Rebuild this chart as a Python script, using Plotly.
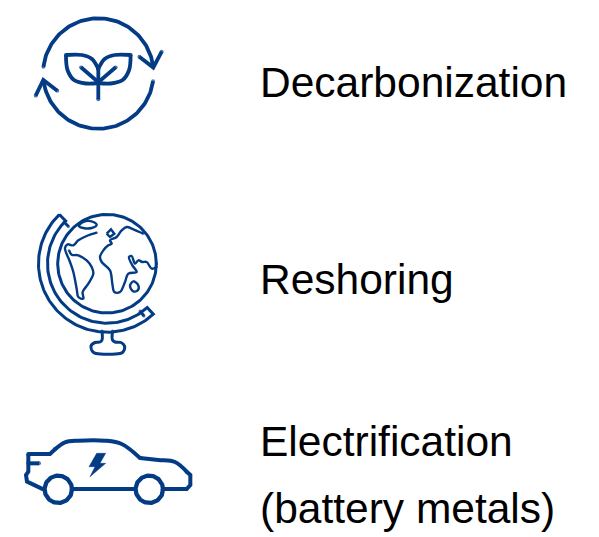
import numpy as np
import plotly.graph_objects as go

labels = ["Decarbonization", "Reshoring", "Electrification", "(battery metals)"]
label_x = [259, 259, 259, 259]
label_y = [82, 279, 441, 508]
NAVY = "#033c84"

fig = go.Figure()

def stroke(pts, w=3.2, smooth=False, closed=False):
    pts = list(pts)
    if closed:
        pts = pts + [pts[0]]
    x = [p[0] for p in pts]
    y = [p[1] for p in pts]
    sizes = [0] * len(pts)
    if not closed:
        sizes[0] = sizes[-1] = w
    fig.add_trace(go.Scatter(
        x=x, y=y, mode="lines+markers",
        line=dict(color=NAVY, width=w, shape="spline" if smooth else "linear", smoothing=1.0),
        marker=dict(color=NAVY, size=sizes, line=dict(width=0)),
        hoverinfo="skip", showlegend=False))

def arc(cx, cy, r, a0, a1, n=90):
    t = np.radians(np.linspace(a0, a1, n))
    return list(zip(cx + r * np.cos(t), cy + r * np.sin(t)))

def z(points, ox, oy):
    return [(ox + a / 3, oy + b / 3) for a, b in points]

# --- plant icon ---
P = 3.8
cx1, cy1, r1 = 98.3, 73.5, 55.3
stroke(arc(cx1, cy1, r1, 187, 353), P)
stroke(arc(cx1, cy1, r1, 8, 172), P)
stroke([(139.3, 56.7), (153.3, 67.5), (161.7, 51.7)], P)
stroke([(35.7, 95.7), (43.3, 80), (57.3, 90.7)], P)
leaf_top = [(66, 55), (82, 55), (92, 59), (98.3, 69)]
leaf_bot = [(98.3, 83), (86, 83.5), (74, 80), (67.5, 70), (66, 55)]
stroke(leaf_top, P, True)
stroke(leaf_bot, P, True)
mirror = lambda ps: [(196.6 - a, b) for a, b in ps]
stroke(mirror(leaf_top), P, True)
stroke(mirror(leaf_bot), P, True)
stroke([(98.3, 69), (98.3, 99.3)], P)
stroke([(81, 67.3), (98.3, 82.3), (115.7, 67.3)], P)

# --- globe icon ---
gx, gy, gr = 107, 263.7, 49.3
G = 3.0
stroke(arc(gx, gy, gr, 0, 360, 180), G)
out = arc(gx, gy, 68.5, 226, 47.5)
inn = arc(gx, gy, 59.5, 226, 47.5)
stroke(out + inn[::-1], G, closed=True)
stroke([(64, 222), (68.5, 226.5)], G)
stroke([(140, 311), (144, 316)], G)
stroke([(102, 331), (102, 340), (100, 342), (95, 342.5), (91, 346), (93, 352), (96, 353.5),
        (120, 353.5), (123, 352), (124.5, 346), (121, 342.5), (115, 342), (112.5, 340), (112.5, 331)], G, True)
greenland = [(72, 42), (85, 30), (110, 28), (125, 38), (110, 48), (85, 48)]
americas = [(125, 62), (95, 72), (70, 85), (55, 100), (38, 97), (30, 108), (45, 150), (55, 180), (65, 230),
            (70, 255), (85, 260), (83, 240), (100, 215), (115, 185), (110, 165), (95, 145), (70, 130),
            (50, 128), (42, 115)]
eurasia = [(305, 165), (290, 170), (275, 150), (262, 150), (250, 145), (240, 155), (230, 132), (222, 135),
           (232, 160), (245, 180), (220, 185), (210, 210), (195, 240), (178, 240), (172, 215), (165, 175),
           (140, 150), (135, 135), (145, 115), (160, 100), (170, 95), (165, 85), (185, 75), (200, 55),
           (215, 45), (235, 52), (265, 65)]
island = [(155, 65), (168, 52), (178, 65), (165, 75)]
madagascar = [(225, 222), (235, 208), (250, 220), (248, 235), (235, 238)]
for shape, closed in [(greenland, True), (americas, False), (eurasia, False), (madagascar, True)]:
    stroke(z(shape, 55, 212), 2.4, True, closed)
stroke(z(island, 55, 212), 2.4, False, True)

# --- car icon ---
C = 4.0
stroke(z([(40, 72), (105, 72), (120, 58)], 15, 430), C)
stroke(z([(120, 58), (150, 37), (190, 32), (270, 32), (320, 42), (375, 84)], 15, 430), C, True)
stroke(z([(375, 84), (430, 90), (480, 96), (515, 125)], 15, 430), C, True)
stroke(z([(515, 125), (526, 135), (526, 165), (515, 177), (448, 177)], 15, 430), C)
stroke(z([(175, 177), (358, 177)], 15, 430), C)
stroke(z([(40, 72), (40, 125), (33, 135), (36, 155), (85, 178)], 15, 430), C)
stroke(z([(40, 100), (72, 100)], 15, 430), C)
stroke(arc(58.3, 489.3, 13.7, 0, 360, 120), C + 0.3)
stroke(arc(149.3, 489.3, 13.7, 0, 360, 120), C + 0.3)
bolt = z([(245, 70), (272, 70), (255, 100), (272, 100), (225, 140), (240, 110), (222, 110), (245, 70)], 15, 430)
fig.add_trace(go.Scatter(x=[p[0] for p in bolt], y=[p[1] for p in bolt], mode="lines", fill="toself",
                         fillcolor=NAVY, line=dict(color=NAVY, width=0.5), hoverinfo="skip", showlegend=False))

# --- labels ---
for t, x, y in zip(labels, label_x, label_y):
    fig.add_annotation(x=x, y=y, text=t, showarrow=False, xanchor="left", yanchor="middle",
                       font=dict(family="Liberation Sans, Arial", size=42.5, color="#000000"),
                       xref="x", yref="y", borderpad=0)

fig.update_layout(width=599, height=537, margin=dict(l=0, r=0, t=0, b=0),
                  paper_bgcolor="white", plot_bgcolor="white", showlegend=False)
fig.update_xaxes(range=[0, 599], visible=False, fixedrange=True)
fig.update_yaxes(range=[537, 0], visible=False, fixedrange=True)
fig.write_html("out.html", config={"displayModeBar": False},
               post_script="document.body.style.margin='0';document.body.style.overflow='hidden';")
